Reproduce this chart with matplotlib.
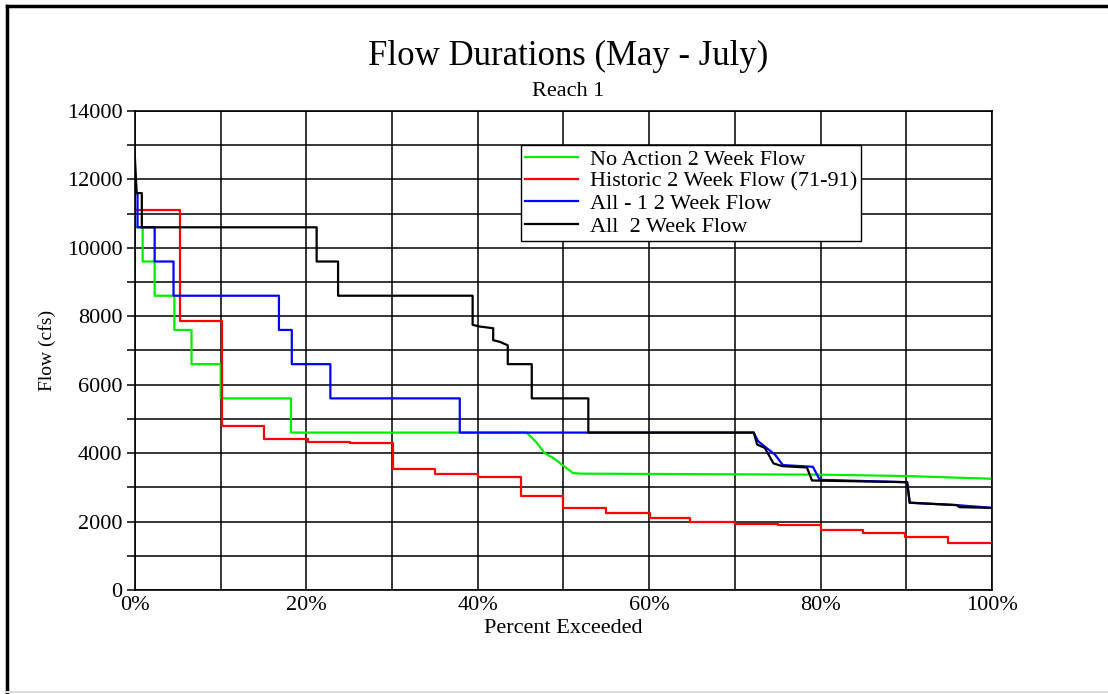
import matplotlib
matplotlib.use('Agg')
import matplotlib.pyplot as plt
from matplotlib.lines import Line2D
from matplotlib.ticker import MultipleLocator, FuncFormatter

plt.rcParams['font.family'] = ['Liberation Serif', 'DejaVu Serif']

# Flow duration curves (percent exceeded, flow in cfs)
no_action_pct = [0.0, 0.9, 0.9, 2.3, 2.3, 4.6, 4.6, 6.6, 6.6, 10.0, 10.0, 18.2, 18.2,
                 45.7, 46.8, 47.8, 48.8, 49.9, 51.1, 52.0, 80.0, 90.0, 100.0]
no_action_flow = [10600, 10600, 9600, 9600, 8600, 8600, 7600, 7600, 6600, 6600, 5600, 5600, 4600,
                  4600, 4330, 4000, 3860, 3650, 3420, 3400, 3370, 3330, 3250]

historic_pct = [0.0, 5.2, 5.2, 10.1, 10.1, 15.1, 15.1, 20.2, 20.2, 25.1, 25.1, 30.1, 30.1,
                35.0, 35.0, 40.0, 40.0, 45.0, 45.0, 50.0, 50.0, 55.0, 55.0, 60.1, 60.1,
                64.8, 64.8, 70.0, 70.0, 75.0, 75.0, 80.0, 80.0, 85.0, 85.0, 89.9, 89.9,
                94.9, 94.9, 100.0]
historic_flow = [11100, 11100, 7850, 7850, 4800, 4800, 4400, 4400, 4330, 4330, 4300, 4300, 3540,
                 3540, 3390, 3390, 3300, 3300, 2750, 2750, 2400, 2400, 2250, 2250, 2100,
                 2100, 2000, 2000, 1940, 1940, 1900, 1900, 1750, 1750, 1660, 1660, 1550,
                 1550, 1370, 1370]

all_minus1_pct = [0.0, 0.3, 0.3, 2.3, 2.3, 4.5, 4.5, 16.8, 16.8, 18.3, 18.3, 22.8, 22.8,
                  37.9, 37.9, 72.2, 72.7, 73.7, 74.7, 75.6, 79.1, 79.9, 90.1, 90.4, 95.9, 100.0]
all_minus1_flow = [11600, 11600, 10600, 10600, 9600, 9600, 8600, 8600, 7600, 7600, 6600, 6600, 5600,
                   5600, 4600, 4600, 4350, 4150, 3950, 3650, 3600, 3220, 3150, 2550, 2480, 2400]

all_pct = [0.0, 0.2, 0.8, 0.8, 21.2, 21.2, 23.7, 23.7, 39.4, 39.4, 40.2, 41.8, 41.8, 42.6,
           43.5, 43.5, 46.3, 46.3, 52.9, 52.9, 72.2, 72.6, 73.5, 74.5, 75.5, 78.4, 79.0,
           90.1, 90.4, 95.9, 96.2, 100.0]
all_flow = [12600, 11600, 11600, 10600, 10600, 9600, 9600, 8600, 8600, 7750, 7700, 7650, 7300, 7250,
            7150, 6600, 6600, 5600, 5600, 4600, 4600, 4250, 4150, 3700, 3620, 3580, 3200,
            3150, 2550, 2480, 2420, 2400]

series_labels = ['No Action 2 Week Flow', 'Historic 2 Week Flow (71-91)',
                 'All - 1 2 Week Flow', 'All  2 Week Flow']

fig = plt.figure(figsize=(11.08, 6.94), dpi=100)
ax = fig.add_axes([0.1218, 0.1499, 0.7735, 0.6902])

ax.plot(no_action_pct, no_action_flow, color='#00ee00', lw=1.6, label=series_labels[0])
ax.plot(historic_pct, historic_flow, color='#ff0000', lw=1.6, label=series_labels[1])
ax.plot(all_minus1_pct, all_minus1_flow, color='#0000ff', lw=1.6, label=series_labels[2])
ax.plot(all_pct, all_flow, color='#000000', lw=1.6, label=series_labels[3])

ax.set_xlim(0, 100)
ax.set_ylim(0, 14000)
ax.xaxis.set_major_locator(MultipleLocator(20))
ax.xaxis.set_minor_locator(MultipleLocator(10))
ax.yaxis.set_major_locator(MultipleLocator(2000))
ax.yaxis.set_minor_locator(MultipleLocator(1000))
ax.xaxis.set_major_formatter(FuncFormatter(lambda v, p: '%d%%' % v))
ax.grid(True, which='both', color='black', lw=1.1)
ax.set_axisbelow(True)
ax.tick_params(axis='x', which='both', length=0, pad=4, labelsize=16)
ax.tick_params(axis='y', which='both', length=6, width=1.1, pad=3, labelsize=16)
for s in ax.spines.values():
    s.set_linewidth(1.2)

ax.set_xlabel('Percent Exceeded', fontsize=16, labelpad=3)
ax.set_ylabel('Flow (cfs)', fontsize=14, labelpad=8)

fig.text(0.5128, 0.918, 'Flow Durations (May - July)', ha='center', va='center', fontsize=25)
fig.text(0.5128, 0.868, 'Reach 1', ha='center', va='center', fontsize=16)

leg = ax.legend(loc='upper left', bbox_to_anchor=(0.45, 0.93), fontsize=16,
                frameon=True, fancybox=False, edgecolor='black', framealpha=1,
                borderpad=0.2, labelspacing=0.08, handlelength=2.4, handletextpad=0.5,
                borderaxespad=0)
leg.get_frame().set_linewidth(1.0)

# outer frame of the page
fig.add_artist(Line2D([0.0065, 0.0065], [0, 0.992], color='black', lw=2.5, transform=fig.transFigure))
fig.add_artist(Line2D([0.0065, 1.0], [0.992, 0.992], color='black', lw=2.5, transform=fig.transFigure))
fig.add_artist(Line2D([0.0065, 1.0], [0.003, 0.003], color='#dddddd', lw=1.5, transform=fig.transFigure))

fig.savefig('out.png', dpi=100)
